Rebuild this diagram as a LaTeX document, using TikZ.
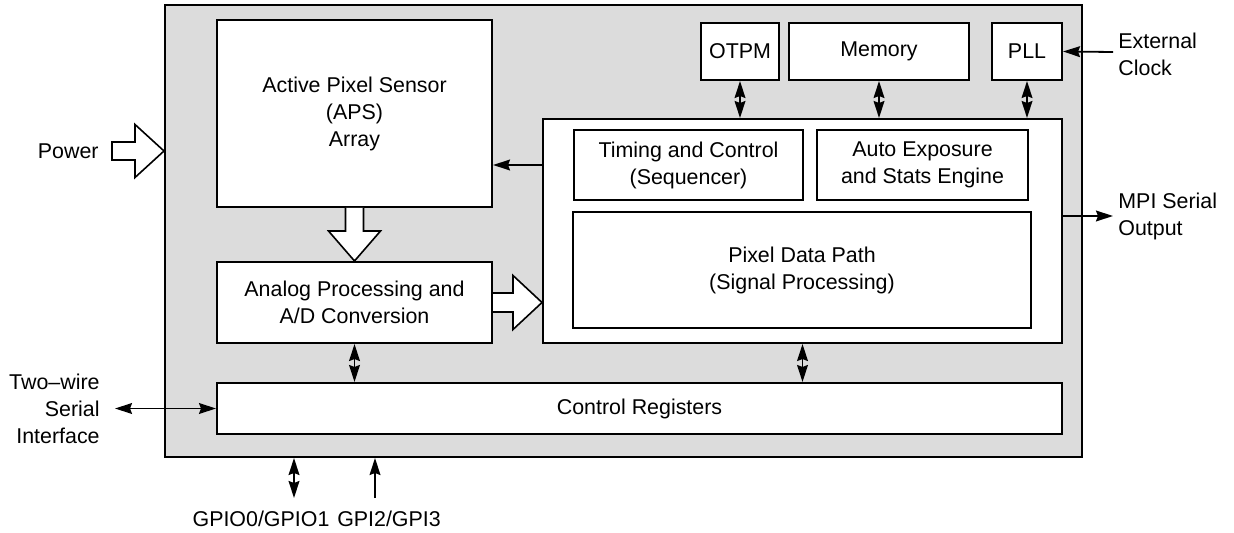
\documentclass[tikz,border=0pt]{standalone}
\usepackage{fontspec}
\setmainfont{Liberation Sans}
\usetikzlibrary{arrows.meta, calc}
\definecolor{chipgray}{RGB}{220,220,220}
\tikzstyle{blk} = [rectangle, draw=black, line width=1pt, fill=white, align=center, inner sep=0pt]
\tikzstyle{lbl} = [inner sep=0pt]
\tikzstyle{arrow} = [line width=0.9pt, -{Stealth[length=8.5pt, width=5.4pt, inset=1pt]}]
\tikzstyle{biarrow} = [line width=0.9pt, {Stealth[length=8.5pt, width=5.4pt, inset=1pt]}-{Stealth[length=8.5pt, width=5.4pt, inset=1pt]}]
\tikzstyle{fat} = [draw=black, line width=0.8pt, fill=white, line join=miter]

\begin{document}
\begin{tikzpicture}[x=1pt, y=-1pt, every node/.style={font=\fontsize{10.7}{13.5}\selectfont}]

    \useasboundingbox (0,0) rectangle (617,266.5);

    \node (outer) [rectangle, draw=black, line width=1pt, fill=chipgray, minimum width=458.5pt, minimum height=226pt] at (311.75,115.5) {};

    \node (aps) [blk, minimum width=137.5pt, minimum height=93.5pt] at (177.25,56.75) {Active Pixel Sensor\\(APS)\\Array};

    \node (adc) [blk, minimum width=137.5pt, minimum height=40.5pt] at (177.25,151.25) {Analog Processing and\\A/D Conversion};

    \node (cr) [blk, minimum width=422.5pt, minimum height=25.5pt] at (319.75,204.25) {Control Registers};

    \node (dp) [blk, minimum width=259.5pt, minimum height=112pt] at (401.25,115.5) {};

    \node (timing) [blk, minimum width=114.5pt, minimum height=35pt] at (344.25,82.5) {Timing and Control\\(Sequencer)};

    \node (ae) [blk, minimum width=105.5pt, minimum height=35pt] at (461.25,82.5) {Auto Exposure\\and Stats Engine};

    \node (pdp) [blk, minimum width=229pt, minimum height=58pt] at (401,135) {Pixel Data Path\\(Signal Processing)};

    \node (otpm) [blk, minimum width=39pt, minimum height=28.5pt] at (370,25.75) {OTPM};

    \node (mem) [blk, minimum width=90pt, minimum height=28.5pt] at (439.5,25.75) {Memory};

    \node (pll) [blk, minimum width=35pt, minimum height=28.5pt] at (513.5,25.75) {PLL};

    \node (power) [lbl, anchor=east] at (49.5,75.5) {Power};

    \node (clklbl) [lbl, anchor=west, align=left] at (559,27) {External\\Clock};

    \node (mpilbl) [lbl, anchor=west, align=left] at (559,108) {MPI Serial\\Output};

    \node (twlbl) [lbl, anchor=east, align=right] at (50,204.5) {Two{\textendash}wire\\Serial\\Interface};

    \node (gpiolbl) [lbl, anchor=base] at (130.5,263) {GPIO0/GPIO1};

    \node (gpilbl) [lbl, anchor=base] at (194.5,263) {GPI2/GPI3};

    \node (caption) [lbl, anchor=base, text=black!40, font=\fontsize{12}{14}\selectfont\bfseries] at (312,277) {Figure 1. Block Diagram};

    \coordinate (pwr) at (outer.west |- 0,75.5);
    \coordinate (adcin) at (adc.east -| dp.west);
    \coordinate (clk) at (556.5,26);
    \coordinate (mpi) at (556.5,108);
    \coordinate (tw) at (57.5,204.25);
    \coordinate (gpio) at (147,249);
    \coordinate (gpi) at (187.5,249);

    \draw[fat] ($(pwr)+(-26,-4.5)$) -- ($(pwr)+(-14.5,-4.5)$) -- ($(pwr)+(-14.5,-13.25)$) -- (pwr) -- ($(pwr)+(-14.5,13.25)$) -- ($(pwr)+(-14.5,4.5)$) -- ($(pwr)+(-26,4.5)$) -- cycle;

    \draw[fat] ($(aps.south)+(-4.5,0)$) -- ($(adc.north)+(-4.5,-15)$) -- ($(adc.north)+(-13,-15)$) -- (adc.north) -- ($(adc.north)+(13,-15)$) -- ($(adc.north)+(4.5,-15)$) -- ($(aps.south)+(4.5,0)$);

    \draw[fat] ($(adc.east)+(0,-4.75)$) -- ($(adcin)+(-14.5,-4.75)$) -- ($(adcin)+(-14.5,-13.5)$) -- (adcin) -- ($(adcin)+(-14.5,13.5)$) -- ($(adcin)+(-14.5,4.75)$) -- ($(adc.east)+(0,4.75)$);

    \draw[arrow] (dp.west |- timing.west) -- (aps.east |- timing.west);
    \draw[biarrow] (otpm.south) -- (otpm.south |- dp.north);
    \draw[biarrow] (mem.south) -- (mem.south |- dp.north);
    \draw[biarrow] (pll.south) -- (pll.south |- dp.north);
    \draw[arrow] (clk) -- (pll.east);
    \draw[arrow] (dp.east |- mpi) -- (mpi);
    \draw[biarrow] (adc.south) -- (adc.south |- cr.north);
    \draw[biarrow] (dp.south) -- (dp.south |- cr.north);
    \draw[biarrow] (tw) -- (cr.west);
    \draw[biarrow] (gpio) -- (gpio |- outer.south);
    \draw[arrow] (gpi) -- (gpi |- outer.south);

\end{tikzpicture}
\end{document}
